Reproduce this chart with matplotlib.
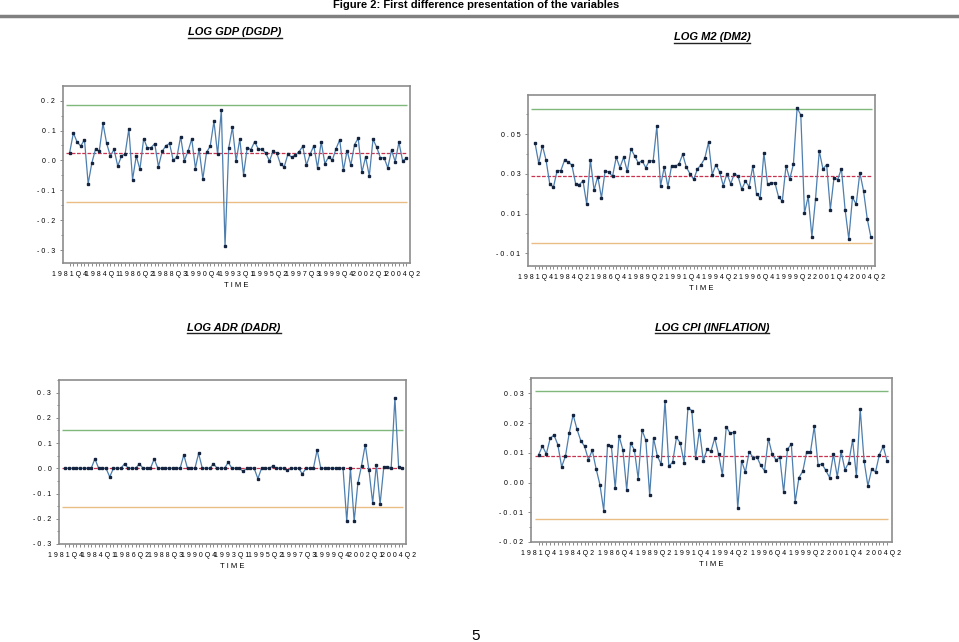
import matplotlib
matplotlib.use("Agg")
import matplotlib.pyplot as plt
from matplotlib.lines import Line2D
from matplotlib.ticker import MultipleLocator, FixedLocator, FuncFormatter

plt.rcParams['font.family'] = ['Liberation Sans', 'DejaVu Sans']

# quarterly sample, 1981Q4 onwards (92 observations)
start_year, start_q, n_obs = 1981, 4, 92
quarters = []
y, q = start_year, start_q
for i in range(n_obs):
    quarters.append(f"{y}Q{q}")
    q += 1
    if q > 4:
        q = 1
        y += 1

ticks_9 = ['1981Q4', '1984Q1', '1986Q2', '1988Q3', '1990Q4', '1993Q1',
           '1995Q2', '1997Q3', '1999Q4', '2002Q1', '2004Q2']
ticks_10 = ['1981Q4', '1984Q2', '1986Q4', '1989Q2', '1991Q4', '1994Q2',
            '1996Q4', '1999Q2', '2001Q4', '2004Q2']

dgdp = [0.026, 0.092, 0.062, 0.048, 0.070, -0.078, -0.008, 0.038, 0.031, 0.124,
        0.057, 0.015, 0.037, -0.019, 0.015, 0.022, 0.106, -0.064, 0.015, -0.030,
        0.073, 0.042, 0.043, 0.056, -0.021, 0.030, 0.049, 0.057, 0.000, 0.012,
        0.080, -0.001, 0.031, 0.072, -0.027, 0.037, -0.062, 0.027, 0.048, 0.131,
        0.020, 0.170, -0.287, 0.042, 0.111, -0.002,
        0.072, -0.048, 0.043, 0.036, 0.063, 0.038, 0.037, 0.025, -0.002, 0.031,
        0.024, -0.013, -0.021, 0.021, 0.011, 0.018, 0.029, 0.047, -0.016, 0.021,
        0.049, -0.025, 0.062, -0.011, 0.012, 0.001, 0.039, 0.069, -0.033, 0.033,
        -0.016, 0.053, 0.074, -0.040, 0.012, -0.052, 0.071, 0.044, 0.009, 0.009,
        -0.025, 0.034, -0.004, 0.061, -0.001, 0.007]
dgdp_lines = (0.0236, 0.185, -0.139)   # mean, upper, lower

dm2 = [0.0456, 0.0354, 0.0443, 0.0369, 0.0248, 0.0234, 0.0317, 0.0317, 0.0369, 0.0361,
       0.0344, 0.0251, 0.0246, 0.0265, 0.0147, 0.0371, 0.0218, 0.0287, 0.0179, 0.0317,
       0.0308, 0.0288, 0.0384, 0.0332, 0.0384, 0.0313, 0.0426, 0.0391, 0.0355, 0.0367,
       0.0332, 0.0367, 0.0366, 0.0540, 0.0239, 0.0334, 0.0236, 0.0342, 0.0339, 0.0350,
       0.0399, 0.0334, 0.0300, 0.0273, 0.0325, 0.0347, 0.0379, 0.0460, 0.0297, 0.0347,
       0.0310, 0.0241, 0.0302, 0.0250, 0.0302, 0.0288, 0.0223, 0.0263, 0.0236, 0.0339,
       0.0199, 0.0180, 0.0406, 0.0248, 0.0255, 0.0255, 0.0182, 0.0164, 0.0342, 0.0273,
       0.0350, 0.0633, 0.0597, 0.0103, 0.0187, -0.0016, 0.0176, 0.0416, 0.0325, 0.0347,
       0.0120, 0.0282, 0.0271, 0.0327, 0.0120, -0.0028, 0.0182, 0.0147, 0.0307, 0.0214,
       0.0073, -0.0020]
dm2_lines = (0.0292, 0.0628, -0.0046)

dadr = [0.0, 0.0, 0.0, 0.0, 0.0, 0.0, 0.0, 0.0, 0.038, 0.0,
        0.0, 0.0, -0.034, 0.0, 0.0, 0.0, 0.018, 0.0, 0.0, 0.0,
        0.018, 0.0, 0.0, 0.0, 0.037, 0.0, 0.0, 0.0, 0.0, 0.0,
        0.0, 0.0, 0.053, 0.0, 0.0, 0.0, 0.059, 0.0, 0.0, 0.0,
        0.018, 0.0, 0.0, 0.0, 0.024, 0.0, 0.0, 0.0, -0.012, 0.0,
        0.0, 0.0, -0.041, 0.0, 0.0, 0.0, 0.008, 0.0, 0.0, 0.0,
        -0.008, 0.0, 0.0, 0.0, -0.022, 0.0, 0.0, 0.0, 0.073, 0.0,
        0.0, 0.0, 0.0, 0.0, 0.0, 0.0, -0.210, 0.0, -0.210, -0.059,
        0.011, 0.094, -0.008, -0.137, 0.015, -0.143, 0.005, 0.005, 0.003, 0.279,
        0.007, 0.0]
dadr_lines = (0.0005, 0.152, -0.152)

inflation = [0.0094, 0.0123, 0.0096, 0.0149, 0.0160, 0.0128, 0.0053, 0.0089, 0.0168, 0.0228,
             0.0180, 0.0141, 0.0122, 0.0077, 0.0109, 0.0047, -0.0007, -0.0094, 0.0127, 0.0122,
             -0.0019, 0.0157, 0.0110, -0.0024, 0.0133, 0.0110, 0.0013, 0.0177, 0.0142, -0.0043,
             0.0150, 0.0090, 0.0061, 0.0276, 0.0056, 0.0068, 0.0152, 0.0133, 0.0066, 0.0252,
             0.0242, 0.0082, 0.0177, 0.0074, 0.0112, 0.0105, 0.0150, 0.0095, 0.0025, 0.0188,
             0.0166, 0.0169, -0.0086, 0.0073, 0.0035, 0.0104, 0.0084, 0.0087, 0.0058, 0.0040,
             0.0148, 0.0096, 0.0076, 0.0085, -0.0033, 0.0113, 0.0129, -0.0065, 0.0017, 0.0038,
             0.0103, 0.0103, 0.0189, 0.0058, 0.0063, 0.0041, 0.0017, 0.0096, 0.0020, 0.0105,
             0.0043, 0.0067, 0.0144, 0.0022, 0.0247, 0.0074, -0.0011, 0.0045, 0.0036, 0.0094,
             0.0122, 0.0074]
inflation_lines = (0.0091, 0.0308, -0.0124)


def spaced(s):
    return " ".join(s)


def draw_panel(ax, values, lines, ylim, major, minor, decimals, tick_labels, xlim):
    x = list(range(len(values)))
    mean, upper, lower = lines
    ax.hlines(upper, -1, len(values) - 0.7, color='#7fb87a', lw=1.0)
    ax.hlines(lower, -1, len(values) - 0.7, color='#e9bd84', lw=1.0)
    ax.hlines(mean, -1, len(values) - 0.7, color='#c8324f', lw=0.9, linestyles=(0, (3, 1.2)))
    ax.plot(x, values, color='#4d7eae', lw=0.9, marker='s', ms=1.8,
            mfc='#14243f', mec='#14243f', zorder=3)
    ax.set_xlim(*xlim)
    ax.set_ylim(*ylim)
    ax.yaxis.set_major_locator(MultipleLocator(major))
    ax.yaxis.set_minor_locator(MultipleLocator(minor))

    def fmt(v, pos):
        v = round(v, decimals)
        if v == 0:
            v = 0.0
        return spaced(f"{v:.{decimals}f}")
    ax.yaxis.set_major_formatter(FuncFormatter(fmt))
    pos = [quarters.index(lbl) for lbl in tick_labels]
    ax.xaxis.set_major_locator(FixedLocator(pos))
    ax.xaxis.set_minor_locator(FixedLocator(x))
    ax.set_xticklabels([spaced(lbl) for lbl in tick_labels])
    ax.tick_params(axis='both', which='both', direction='out', length=2.5,
                   width=0.6, color='#777777', labelsize=5, pad=3)
    ax.tick_params(axis='y', which='minor', length=1.5)
    for sp in ax.spines.values():
        sp.set_color('#8c8c8c')
        sp.set_linewidth(1.2)
    ax.set_xlabel(spaced("TIME"), fontsize=5.5, labelpad=3)


fig = plt.figure(figsize=(9.59, 6.42), dpi=100)
W, H = 959, 642


def box(l, t, r, b):
    return [l / W, 1 - b / H, (r - l) / W, (b - t) / H]


ax1 = fig.add_axes(box(63, 86, 410, 263))
draw_panel(ax1, dgdp, dgdp_lines, (-0.343, 0.249), 0.1, 0.05, 1, ticks_9, (-1.8, 92.0))

ax2 = fig.add_axes(box(528, 95, 875, 266))
draw_panel(ax2, dm2, dm2_lines, (-0.0164, 0.0698), 0.02, 0.01, 2, ticks_10, (-1.9, 92.1))
ax2.yaxis.set_major_locator(FixedLocator([-0.01, 0.01, 0.03, 0.05]))
ax2.yaxis.set_minor_locator(FixedLocator([0.0, 0.02, 0.04, 0.06]))

ax3 = fig.add_axes(box(59, 380, 406, 544))
draw_panel(ax3, dadr, dadr_lines, (-0.3, 0.35), 0.1, 0.05, 1, ticks_9, (-1.7, 92.0))

ax4 = fig.add_axes(box(531, 378, 892, 542))
draw_panel(ax4, inflation, inflation_lines, (-0.02, 0.0352), 0.01, 0.005, 2, ticks_10, (-2.0, 92.3))

narrow = ['Liberation Sans Narrow', 'Liberation Sans', 'DejaVu Sans']
fig.text(476.5 / W, 1 - 5 / H, "Figure 2: First difference presentation of the variables",
         ha='center', va='center', fontsize=8, fontweight='bold', family=narrow)
fig.add_artist(Line2D([0, 1], [1 - 16 / H] * 2, transform=fig.transFigure,
                      color='#808080', lw=2.5))

titles = []
for (cx, cy, s) in [(235, 32, "LOG GDP (DGDP)"), (712, 37, "LOG M2 (DM2)"),
                    (234, 328, "LOG ADR (DADR)"), (712, 328, "LOG CPI (INFLATION)")]:
    titles.append(fig.text(cx / W, 1 - cy / H, s, ha='center', va='center', fontsize=8,
                           fontweight='bold', fontstyle='italic', family=narrow))

fig.text(476 / W, 1 - 636 / H, "5", ha='center', va='center', fontsize=11)

fig.canvas.draw()
for t in titles:
    bb = t.get_window_extent()
    yy = (bb.y0 - 0.5) / H
    fig.add_artist(Line2D([bb.x0 / W, bb.x1 / W], [yy, yy], transform=fig.transFigure,
                          color='#222222', lw=1.0))

fig.savefig("out.png", dpi=100)
